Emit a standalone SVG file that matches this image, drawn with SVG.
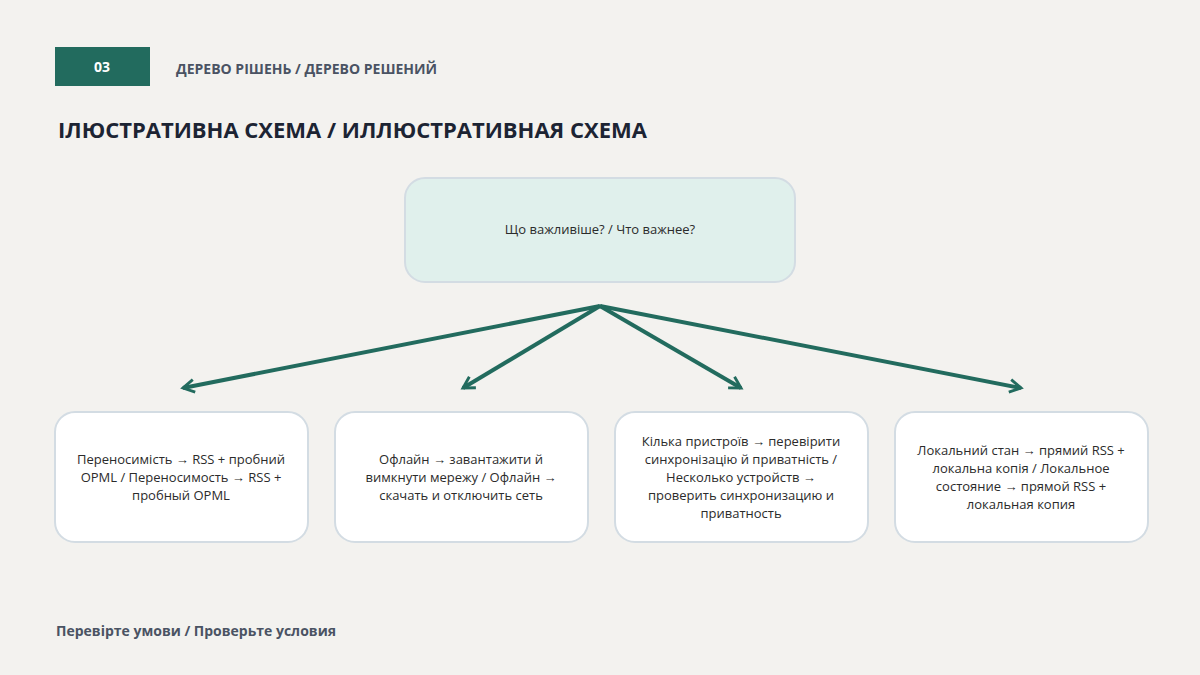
<svg xmlns="http://www.w3.org/2000/svg" width="1200" height="675" viewBox="0 0 1200 675">
<defs>
<style>
text{font-family:"Open Sans","Noto Sans",sans-serif;}
.box{fill:#ffffff;stroke:#d3dce3;stroke-width:2;}
.lbl{font-size:13px;fill:#2b2b2b;text-anchor:middle;}
.con{stroke:#226b5e;stroke-width:4;fill:none;}
</style>
<marker id="ah" viewBox="0 0 10 10" refX="8" refY="5" markerWidth="4" markerHeight="4" orient="auto" markerUnits="strokeWidth">
<polyline points="1,1 8,5 1,9" fill="none" stroke="#226b5e" stroke-width="1.8"/>
</marker>
</defs>
<rect width="1200" height="675" fill="#f3f2ef"/>
<g id="header">
<rect x="55" y="47" width="95" height="39" fill="#226b5e"/>
<text x="102" y="72" font-size="14" font-weight="700" fill="#ffffff" text-anchor="middle">03</text>
<text x="176" y="74" font-size="14" font-weight="700" fill="#4a5363">ДЕРЕВО РІШЕНЬ / ДЕРЕВО РЕШЕНИЙ</text>
<text x="58" y="138" font-size="22" font-weight="700" fill="#1c2433">ІЛЮСТРАТИВНА СХЕМА / ИЛЛЮСТРАТИВНАЯ СХЕМА</text>
</g>
<g id="connectors">
<line class="con" x1="600" y1="306" x2="183" y2="388" marker-end="url(#ah)"/>
<line class="con" x1="600" y1="306" x2="463" y2="388" marker-end="url(#ah)"/>
<line class="con" x1="600" y1="306" x2="741" y2="388" marker-end="url(#ah)"/>
<line class="con" x1="600" y1="306" x2="1021" y2="388" marker-end="url(#ah)"/>
</g>
<g id="root">
<rect x="405" y="178" width="390" height="104" rx="20" fill="#e0f0ec" stroke="#d3dce3" stroke-width="2"/>
<text class="lbl" x="600" y="234">Що важливіше? / Что важнее?</text>
</g>
<g id="n1">
<rect class="box" x="55" y="412" width="253" height="130" rx="20"/>
<text class="lbl"><tspan x="181" y="464">Переносимість → RSS + пробний</tspan><tspan x="181" y="482">OPML / Переносимость → RSS +</tspan><tspan x="181" y="500">пробный OPML</tspan></text>
</g>
<g id="n2">
<rect class="box" x="335" y="412" width="253" height="130" rx="20"/>
<text class="lbl"><tspan x="461" y="464">Офлайн → завантажити й</tspan><tspan x="461" y="482">вимкнути мережу / Офлайн →</tspan><tspan x="461" y="500">скачать и отключить сеть</tspan></text>
</g>
<g id="n3">
<rect class="box" x="615" y="412" width="253" height="130" rx="20"/>
<text class="lbl"><tspan x="741" y="446">Кілька пристроїв → перевірити</tspan><tspan x="741" y="464">синхронізацію й приватність /</tspan><tspan x="741" y="482">Несколько устройств →</tspan><tspan x="741" y="500">проверить синхронизацию и</tspan><tspan x="741" y="518">приватность</tspan></text>
</g>
<g id="n4">
<rect class="box" x="895" y="412" width="253" height="130" rx="20"/>
<text class="lbl"><tspan x="1021" y="455">Локальний стан → прямий RSS +</tspan><tspan x="1021" y="473">локальна копія / Локальное</tspan><tspan x="1021" y="491">состояние → прямой RSS +</tspan><tspan x="1021" y="509">локальная копия</tspan></text>
</g>
<g id="footer">
<text x="56" y="636" font-size="14" font-weight="700" fill="#4a5363">Перевірте умови / Проверьте условия</text>
</g>
</svg>
